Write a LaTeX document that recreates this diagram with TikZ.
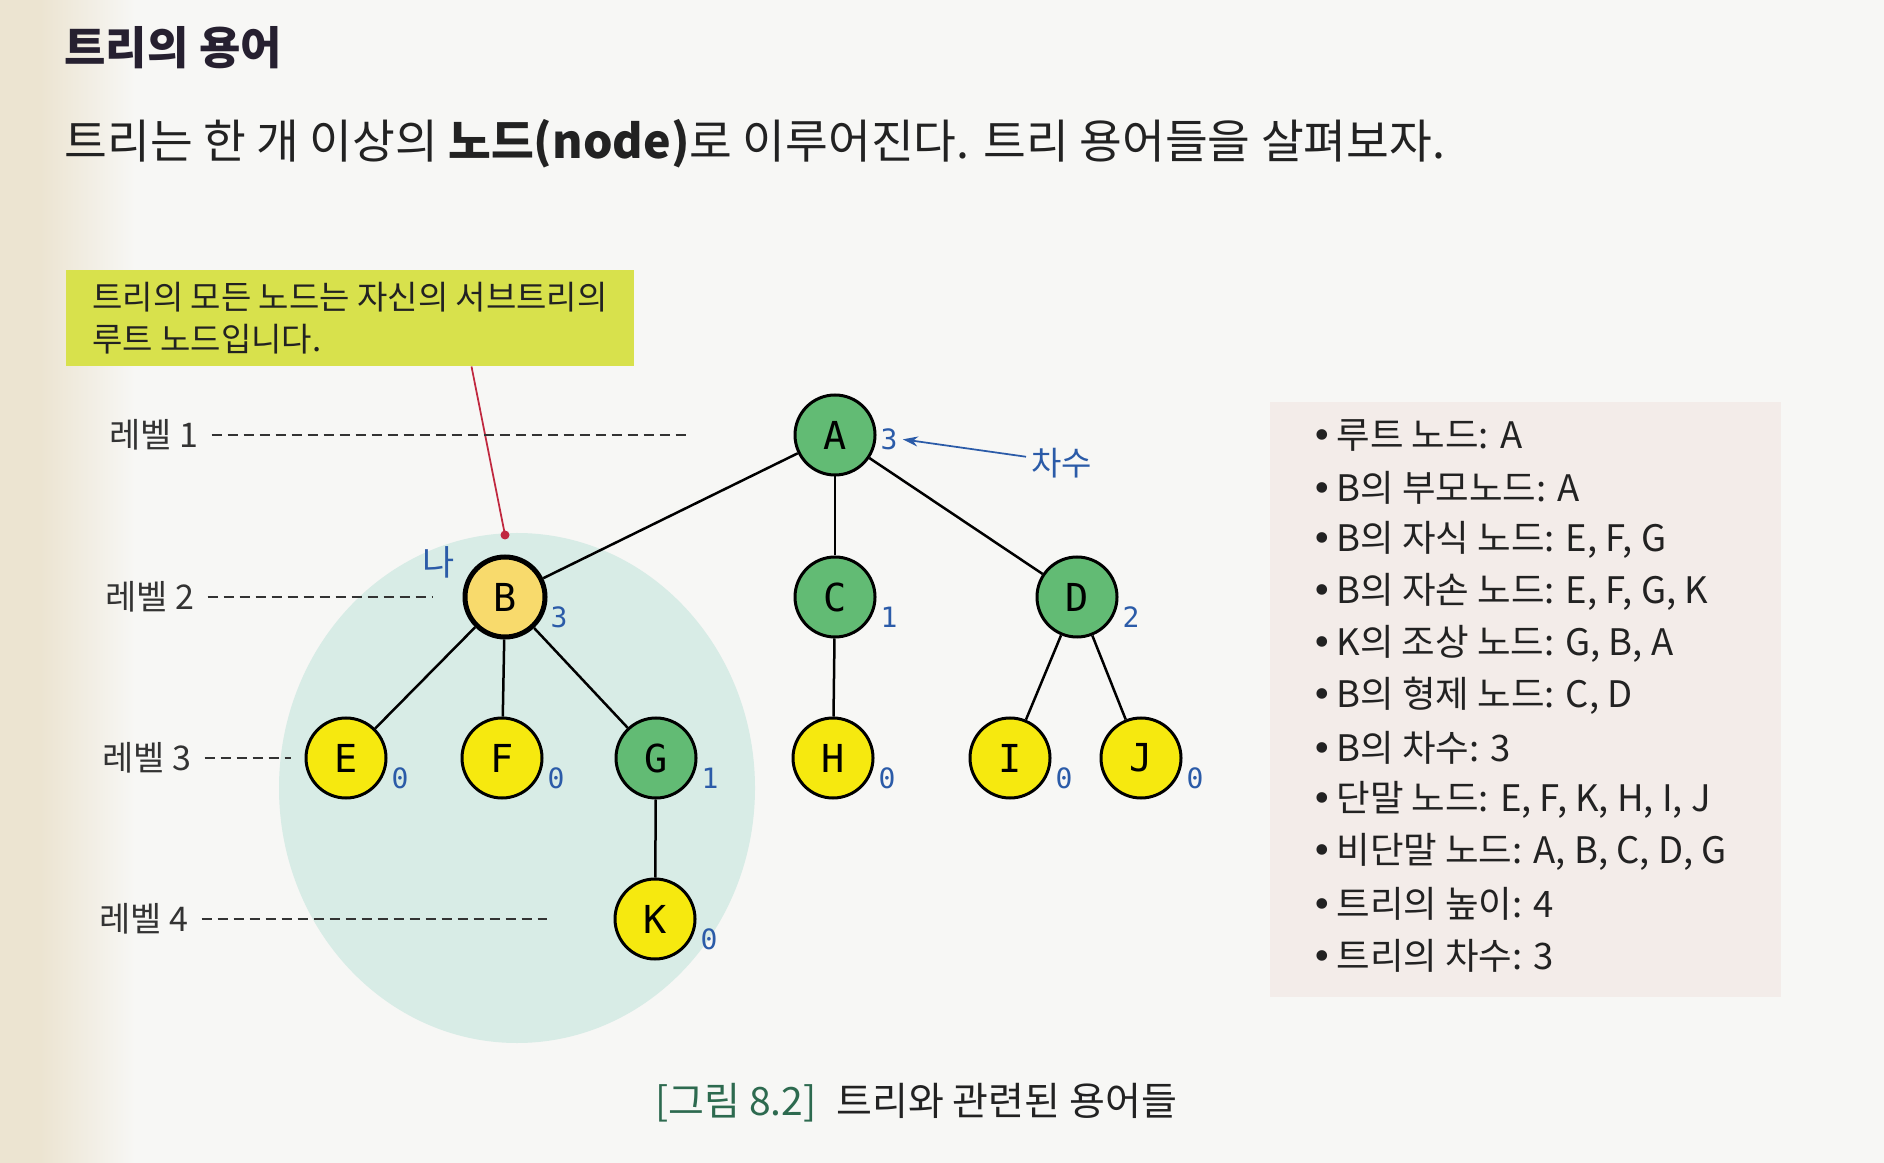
\documentclass[tikz,border=0pt]{standalone}
\usepackage{fontspec}
\setmainfont{Noto Sans CJK KR}
\newfontfamily\monof{DejaVu Sans Mono}
\newfontfamily\djv{DejaVu Sans}
\usetikzlibrary{arrows.meta}
\definecolor{bgcol}{HTML}{F7F7F5}
\definecolor{beige}{HTML}{ECE4D1}
\definecolor{panelcol}{HTML}{F3ECE9}
\definecolor{ellcol}{HTML}{D8ECE6}
\definecolor{calloutcol}{HTML}{D8E14C}
\definecolor{nodegreen}{HTML}{62BB74}
\definecolor{nodeyellow}{HTML}{F6E90F}
\definecolor{nodeorange}{HTML}{F8DA6C}
\definecolor{degblue}{HTML}{2B5BA8}
\definecolor{redc}{HTML}{C0283F}
\definecolor{txtblack}{HTML}{222222}
\definecolor{txtgray}{HTML}{333333}
\definecolor{titlecol}{HTML}{262030}
\definecolor{capgreen}{HTML}{2D6A4F}
\begin{document}
\begin{tikzpicture}[x=0.4pt,y=-0.4pt,
  tnode/.style={circle, draw=black, line width=1.2pt, minimum size=32pt, inner sep=0pt, font=\monof\fontsize{15.4pt}{16pt}\selectfont},
  gnode/.style={tnode, fill=nodegreen},
  ynode/.style={tnode, fill=nodeyellow},
  bnode/.style={tnode, fill=nodeorange, line width=2pt},
  deg/.style={text=degblue, font=\monof\fontsize{11.2pt}{12pt}\selectfont, inner sep=1pt},
  edge/.style={line width=1pt, draw=black},
  lvl/.style={anchor=west, text=txtgray, font=\fontsize{13.6pt}{15pt}\selectfont, inner sep=2pt},
  lvlline/.style={draw=txtgray, line width=0.8pt, dash pattern=on 4pt off 2.4pt, shorten <=3pt},
  item/.style={anchor=west, text=txtblack, font=\fontsize{14.6pt}{16pt}\selectfont, inner sep=0pt},
  callout/.style={fill=calloutcol, minimum width=227.2pt, minimum height=38.4pt, align=left, inner xsep=4pt, inner ysep=0pt, text=txtblack, font=\fontsize{13.2pt}{16.8pt}\selectfont},
]
\useasboundingbox (0,0) rectangle (1884,1163);
\fill[bgcol] (0,0) rectangle (1884,1163);
\fill[beige] (0,0) rectangle (40,1163);
\shade[left color=beige, right color=bgcol] (40,0) rectangle (135,1163);

% subtree ellipse
\fill[ellcol] (517,788) ellipse [x radius=238, y radius=255];

% right panel
\fill[panelcol] (1270,402) rectangle (1781,997);

% title and intro
\node[anchor=west, inner sep=0pt, text=titlecol, font=\bfseries\fontsize{18pt}{20pt}\selectfont] (title) at (64,48) {트리의 용어};
\node[anchor=west, inner sep=0pt, text=txtblack, font=\fontsize{18.6pt}{20pt}\selectfont] (sub) at (64,144) {트리는 한 개 이상의 \textbf{노드(node)}로 이루어진다. 트리 용어들을 살펴보자.};

% callout
\node[callout] (co) at (350,318) {트리의 모든 노드는 자신의 서브트리의\\루트 노드입니다.};
\coordinate (dot) at (505,535);
\draw[redc, line width=0.7pt] ([xshift=162.4pt]co.south west) -- (dot);
\fill[redc] (dot) circle (4.5);

% levels
\node[lvl] (L1) at (104,435) {레벨 1};
\node[lvl] (L2) at (100,597) {레벨 2};
\node[lvl] (L3) at (97,758) {레벨 3};
\node[lvl] (L4) at (94,919) {레벨 4};
\coordinate (L1e) at (691,435);
\coordinate (L2e) at (433,597);
\coordinate (L3e) at (291,758);
\coordinate (L4e) at (547,919);
\draw[lvlline] (L1) -- (L1e);
\draw[lvlline] (L2) -- (L2e);
\draw[lvlline] (L3) -- (L3e);
\draw[lvlline] (L4) -- (L4e);

% tree nodes
\node[gnode] (A) at (835,435) {A};
\node[bnode] (B) at (505,597) {B};
\node[gnode] (C) at (835,597) {C};
\node[gnode] (D) at (1077,597) {D};
\node[ynode] (E) at (346,758) {E};
\node[ynode] (F) at (502,758) {F};
\node[gnode] (G) at (656,758) {G};
\node[ynode] (H) at (833,758) {H};
\node[ynode] (I) at (1010,758) {I};
\node[ynode] (J) at (1141,758) {J};
\node[ynode] (K) at (655,919) {K};

\draw[edge] (A) -- (B);
\draw[edge] (A) -- (C);
\draw[edge] (A) -- (D);
\draw[edge] (B) -- (E);
\draw[edge] (B) -- (F);
\draw[edge] (B) -- (G);
\draw[edge] (C) -- (H);
\draw[edge] (D) -- (I);
\draw[edge] (D) -- (J);
\draw[edge] (G) -- (K);

% degrees
\node[deg] (dA) at (889,439) {3};
\node[deg] (dB) at (559,617) {3};
\node[deg] (dC) at (889,617) {1};
\node[deg] (dD) at (1131,617) {2};
\node[deg] (dE) at (400,778) {0};
\node[deg] (dF) at (556,778) {0};
\node[deg] (dG) at (710,778) {1};
\node[deg] (dH) at (887,778) {0};
\node[deg] (dI) at (1064,778) {0};
\node[deg] (dJ) at (1195,778) {0};
\node[deg] (dK) at (709,939) {0};

\node[anchor=west, inner sep=2pt, text=degblue, font=\fontsize{13.2pt}{14pt}\selectfont] (cs) at (1026,463) {차수};
\draw[degblue, line width=0.7pt, -{Stealth[length=6pt,width=4pt]}, shorten >=1pt] ([yshift=2.5pt]cs.west) -- (dA.east);

\node[text=degblue, inner sep=0pt, font=\fontsize{14pt}{15pt}\selectfont] (na) at (439,562) {나};

% list
\foreach \t [count=\i] in {{루트 노드: A},{B의 부모노드: A},{B의 자식 노드: E, F, G},{B의 자손 노드: E, F, G, K},{K의 조상 노드: G, B, A},{B의 형제 노드: C, D},{B의 차수: 3},{단말 노드: E, F, K, H, I, J},{비단말 노드: A, B, C, D, G},{트리의 높이: 4},{트리의 차수: 3}}{
  \node[item] (it\i) at (1311,{436+52*(\i-1)}) {\makebox[10pt][l]{\djv •}\t};
}

% caption
\node[anchor=west, inner sep=0pt, text=txtblack, font=\fontsize{15.6pt}{17pt}\selectfont] (cap) at (655,1103) {\textcolor{capgreen}{[그림 8.2]}\hspace{8pt}트리와 관련된 용어들};
\end{tikzpicture}
\end{document}
